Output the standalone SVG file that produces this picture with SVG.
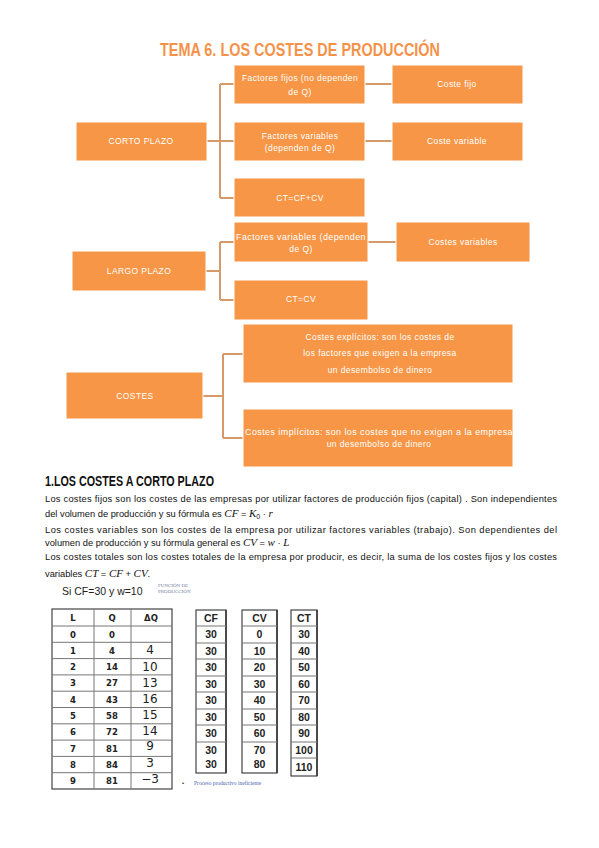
<svg xmlns="http://www.w3.org/2000/svg" width="599" height="848" viewBox="0 0 599 848">
<style>
.bx{fill:#F79646;stroke:#fff;stroke-width:1}
.bt{font-family:"Liberation Sans",Arial,sans-serif;font-size:8.5px;fill:#fff;text-anchor:middle;letter-spacing:0.4px}
.cn{fill:none;stroke:#D49A6A;stroke-width:2}
.p{font-family:"Liberation Sans",Arial,sans-serif;font-size:9.3px;fill:#111}
.m{font-family:"Liberation Serif","Times New Roman",serif;font-style:italic}
.tb{font-family:"DejaVu Sans",Verdana,sans-serif;font-size:8.5px;font-weight:bold;fill:#222;text-anchor:middle}
.tc{font-family:"Liberation Sans",Arial,sans-serif;font-size:10.5px;font-weight:bold;fill:#222;text-anchor:middle}
.hw{font-family:"DejaVu Sans",sans-serif;font-size:12px;font-weight:normal;fill:#222;text-anchor:middle}
.gl{stroke:#777;stroke-width:1}
.ob{fill:#fff;stroke:#444;stroke-width:1.2}
</style>
<rect width="599" height="848" fill="#fff"/>
<text x="300" y="56" font-family="Liberation Sans,Arial,sans-serif" font-size="19" font-weight="bold" fill="#F5924A" text-anchor="middle" textLength="280" lengthAdjust="spacingAndGlyphs">TEMA 6. LOS COSTES DE PRODUCCIÓN</text>

<g id="connectors">
<path class="cn" d="M207 141H220M220 84V198M220 84H234M220 141H234M220 198H234M365 84H392M365 141H392"/>
<path class="cn" d="M206 271H220M220 242V300M220 242H234M220 300H234M368 242H396"/>
<path class="cn" d="M203 396H223M223 354V438M223 354H243M223 438H243"/>
</g>

<g id="corto-plazo"><rect class="bx" x="76" y="122" width="131" height="39"/><text class="bt" x="141" y="144">CORTO PLAZO</text></g>
<g id="factores-fijos"><rect class="bx" x="234" y="65" width="131" height="39"/><text class="bt" x="300" y="81">Factores fijos (no dependen</text><text class="bt" x="300" y="95">de Q)</text></g>
<g id="coste-fijo"><rect class="bx" x="392" y="65" width="131" height="39"/><text class="bt" x="457" y="87">Coste fijo</text></g>
<g id="factores-variables-cp"><rect class="bx" x="234" y="122" width="131" height="39"/><text class="bt" x="300" y="139">Factores variables</text><text class="bt" x="300" y="151">(dependen de Q)</text></g>
<g id="coste-variable"><rect class="bx" x="392" y="122" width="131" height="39"/><text class="bt" x="457" y="144">Coste variable</text></g>
<g id="ct-cf-cv"><rect class="bx" x="234" y="178" width="131" height="39"/><text class="bt" x="300" y="201">CT=CF+CV</text></g>

<g id="largo-plazo"><rect class="bx" x="72" y="251" width="134" height="40"/><text class="bt" x="139" y="274">LARGO PLAZO</text></g>
<g id="factores-variables-lp"><rect class="bx" x="234" y="222" width="134" height="40"/><text class="bt" x="301" y="240" textLength="130" lengthAdjust="spacingAndGlyphs">Factores variables (dependen</text><text class="bt" x="301" y="252">de Q)</text></g>
<g id="costes-variables"><rect class="bx" x="396" y="222" width="134" height="40"/><text class="bt" x="463" y="245">Costes variables</text></g>
<g id="ct-cv"><rect class="bx" x="234" y="280" width="134" height="40"/><text class="bt" x="301" y="302">CT=CV</text></g>

<g id="costes"><rect class="bx" x="66" y="372" width="137" height="47"/><text class="bt" x="135" y="399">COSTES</text></g>
<g id="costes-explicitos"><rect class="bx" x="243" y="324" width="270" height="59"/><text class="bt" x="380" y="340">Costes explícitos: son los costes de</text><text class="bt" x="380" y="356">los factores que exigen a la empresa</text><text class="bt" x="380" y="373">un desembolso de dinero</text></g>
<g id="costes-implicitos"><rect class="bx" x="243" y="409" width="270" height="58"/><text class="bt" x="379" y="435" textLength="268" lengthAdjust="spacingAndGlyphs">Costes implícitos: son los costes que no exigen a la empresa</text><text class="bt" x="379" y="447">un desembolso de dinero</text></g>

<text x="45" y="486" font-family="Liberation Sans,Arial,sans-serif" font-size="14" font-weight="bold" fill="#111" textLength="169" lengthAdjust="spacingAndGlyphs">1.LOS COSTES A CORTO PLAZO</text>
<text class="p" x="45" y="502" textLength="512" lengthAdjust="spacing">Los costes fijos son los costes de las empresas por utilizar factores de producción fijos (capital) . Son independientes</text>
<text class="p" x="45" y="517">del volumen de producción y su fórmula es <tspan class="m" font-size="11">CF</tspan> = <tspan class="m" font-size="11">K</tspan><tspan font-size="7" dy="2">0</tspan><tspan dy="-2"> · </tspan><tspan class="m" font-size="11">r</tspan></text>
<text class="p" x="45" y="533" textLength="512" lengthAdjust="spacing">Los costes variables son los costes de la empresa por utilizar factores variables (trabajo). Son dependientes del</text>
<text class="p" x="45" y="546">volumen de producción y su fórmula general es <tspan class="m" font-size="11">CV</tspan> = <tspan class="m" font-size="11">w</tspan> · <tspan class="m" font-size="11">L</tspan></text>
<text class="p" x="45" y="560" textLength="512" lengthAdjust="spacing">Los costes totales son los costes totales de la empresa por producir, es decir, la suma de los costes fijos y los costes</text>
<text class="p" x="45" y="577">variables <tspan class="m" font-size="11">CT</tspan> = <tspan class="m" font-size="11">CF</tspan> + <tspan class="m" font-size="11">CV</tspan>.</text>

<text x="62" y="595" font-family="Liberation Sans,Arial,sans-serif" font-size="10.5" fill="#222">Si CF=30 y w=10</text>
<text font-family="Liberation Serif,serif" font-size="5" fill="#7080A0"><tspan x="158" y="587">FUNCIÓN DE</tspan><tspan x="158" y="593">PRODUCCIÓN</tspan></text>

<g id="tabla-lq">
<rect class="ob" x="52" y="609" width="120" height="180"/>
<path class="gl" d="M94 609V789M131 609V789M52 626H172M52 642.3H172M52 658.6H172M52 674.9H172M52 691.2H172M52 707.5H172M52 723.8H172M52 740.1H172M52 756.4H172M52 772.7H172"/>
<text class="tb" x="73" y="621">L</text><text class="tb" x="112" y="621">Q</text><text class="tb" x="151" y="621">ΔQ</text>
<text class="tb" x="73" y="637.5">0</text><text class="tb" x="112" y="637.5">0</text>
<text class="tb" x="73" y="653.8">1</text><text class="tb" x="112" y="653.8">4</text>
<text class="tb" x="73" y="670.1">2</text><text class="tb" x="112" y="670.1">14</text>
<text class="tb" x="73" y="686.4">3</text><text class="tb" x="112" y="686.4">27</text>
<text class="tb" x="73" y="702.7">4</text><text class="tb" x="112" y="702.7">43</text>
<text class="tb" x="73" y="719">5</text><text class="tb" x="112" y="719">58</text>
<text class="tb" x="73" y="735.3">6</text><text class="tb" x="112" y="735.3">72</text>
<text class="tb" x="73" y="751.6">7</text><text class="tb" x="112" y="751.6">81</text>
<text class="tb" x="73" y="767.9">8</text><text class="tb" x="112" y="767.9">84</text>
<text class="tb" x="73" y="784.2">9</text><text class="tb" x="112" y="784.2">81</text>
<text class="hw" x="150" y="654">4</text>
<text class="hw" x="150" y="671">10</text>
<text class="hw" x="150" y="687">13</text>
<text class="hw" x="150" y="703">16</text>
<text class="hw" x="150" y="719">15</text>
<text class="hw" x="150" y="735">14</text>
<text class="hw" x="150" y="750">9</text>
<text class="hw" x="150" y="767">3</text>
<text class="hw" x="150" y="783">−3</text>
</g>

<g id="tabla-cf">
<rect class="ob" x="196" y="610" width="30" height="163" stroke="#999"/>
<path d="M226 610V773" stroke="#333" stroke-width="1.5"/>
<path class="gl" d="M196 626H226M196 643H226M196 659H226M196 676H226M196 692H226M196 709H226M196 725H226M196 742H226"/>
<text class="tc" x="211" y="622">CF</text>
<text class="tc" x="211" y="638">30</text><text class="tc" x="211" y="655">30</text><text class="tc" x="211" y="671">30</text><text class="tc" x="211" y="688">30</text><text class="tc" x="211" y="704">30</text><text class="tc" x="211" y="721">30</text><text class="tc" x="211" y="737">30</text><text class="tc" x="211" y="754">30</text><text class="tc" x="211" y="768">30</text>
</g>
<g id="tabla-cv">
<rect class="ob" x="242" y="610" width="35" height="163" stroke="#999"/>
<path d="M277 610V773" stroke="#333" stroke-width="1.5"/>
<path class="gl" d="M242 626H277M242 643H277M242 659H277M242 676H277M242 692H277M242 709H277M242 725H277M242 742H277"/>
<text class="tc" x="259.5" y="622">CV</text>
<text class="tc" x="259.5" y="638">0</text><text class="tc" x="259.5" y="655">10</text><text class="tc" x="259.5" y="671">20</text><text class="tc" x="259.5" y="688">30</text><text class="tc" x="259.5" y="704">40</text><text class="tc" x="259.5" y="721">50</text><text class="tc" x="259.5" y="737">60</text><text class="tc" x="259.5" y="754">70</text><text class="tc" x="259.5" y="768">80</text>
</g>
<g id="tabla-ct">
<rect class="ob" x="291" y="610" width="26" height="166" stroke="#999"/>
<path d="M317 610V776" stroke="#333" stroke-width="1.5"/>
<path class="gl" d="M291 626H317M291 643H317M291 659H317M291 676H317M291 692H317M291 709H317M291 725H317M291 742H317M291 758H317"/>
<text class="tc" x="304" y="622">CT</text>
<text class="tc" x="304" y="638">30</text><text class="tc" x="304" y="655">40</text><text class="tc" x="304" y="671">50</text><text class="tc" x="304" y="688">60</text><text class="tc" x="304" y="704">70</text><text class="tc" x="304" y="721">80</text><text class="tc" x="304" y="737">90</text><text class="tc" x="304" y="754">100</text><text class="tc" x="304" y="771">110</text>
</g>
<text x="182" y="785" font-family="Liberation Sans,Arial,sans-serif" font-size="6" fill="#333">•</text>
<text x="194" y="785" font-family="Liberation Serif,serif" font-size="5.5" fill="#4A64B0">Proceso productivo ineficiente</text>
</svg>
